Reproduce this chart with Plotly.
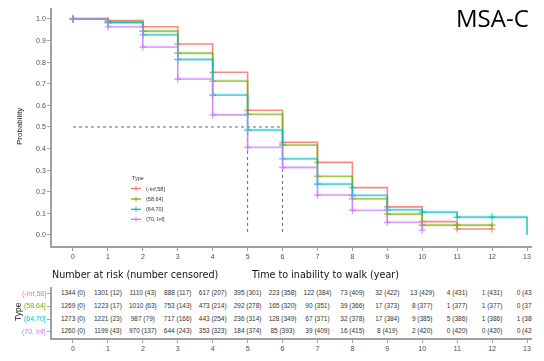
import plotly.graph_objects as go

W, H = 544, 361

# ---------------- data ----------------
groups = ["(-Inf,58]", "(58,64]", "(64,70]", "(70, Inf]"]
colors = ["#F8766D", "#7CAE00", "#00BFC4", "#C77CFF"]

t_red = [0, 1, 2, 3, 4, 5, 6, 7, 8, 9, 10, 11, 12]
s_red = [1.0, 0.992, 0.964, 0.884, 0.753, 0.577, 0.429, 0.336, 0.219, 0.130, 0.062, 0.028, 0.028]

t_green = [0, 1, 2, 3, 4, 5, 6, 7, 8, 9, 10, 11, 12]
s_green = [1.0, 0.987, 0.944, 0.842, 0.713, 0.559, 0.417, 0.272, 0.168, 0.097, 0.046, 0.046, 0.046]

t_cyan = [0, 1, 2, 3, 4, 5, 6, 7, 8, 9, 10, 11, 12, 13]
s_cyan = [1.0, 0.983, 0.927, 0.813, 0.648, 0.486, 0.353, 0.236, 0.184, 0.117, 0.106, 0.083, 0.083, 0.0]

t_purple = [0, 1, 2, 3, 4, 5, 6, 7, 8, 9, 10]
s_purple = [1.0, 0.964, 0.870, 0.722, 0.556, 0.406, 0.313, 0.185, 0.115, 0.059, 0.023]

# censor-mark counts per curve (points that carry a "+")
n_marks = [13, 13, 13, 11]

median_level = 0.5
median_times = [6, 6, 5, 5]

risk_times = list(range(14))
risk_red = ["1344 (0)", "1301 (12)", "1110 (43)", "888 (117)", "617 (207)", "395 (301)", "223 (358)",
            "122 (384)", "73 (409)", "32 (422)", "13 (429)", "4 (431)", "1 (431)", "0 (431)"]
risk_green = ["1269 (0)", "1223 (17)", "1010 (63)", "753 (143)", "473 (214)", "292 (278)", "165 (320)",
              "90 (351)", "39 (366)", "17 (373)", "8 (377)", "1 (377)", "1 (377)", "0 (377)"]
risk_cyan = ["1273 (0)", "1221 (23)", "987 (79)", "717 (166)", "443 (254)", "236 (314)", "128 (349)",
             "67 (371)", "32 (378)", "17 (384)", "9 (385)", "5 (386)", "1 (386)", "1 (386)"]
risk_purple = ["1260 (0)", "1199 (43)", "970 (137)", "644 (243)", "353 (323)", "184 (374)", "85 (393)",
               "39 (409)", "16 (415)", "8 (419)", "2 (420)", "0 (420)", "0 (420)", "0 (420)"]

x_ticks = list(range(14))
y_ticks = [0.0, 0.1, 0.2, 0.3, 0.4, 0.5, 0.6, 0.7, 0.8, 0.9, 1.0]

# ---------------- figure ----------------
def px(x):
    return x / W

def py(y):
    return 1 - y / H

fig = go.Figure()

curves = [(t_red, s_red), (t_green, s_green), (t_cyan, s_cyan), (t_purple, s_purple)]

# median reference lines
mt_max = max(median_times)
fig.add_trace(go.Scatter(x=[0, mt_max], y=[median_level, median_level], mode="lines",
                         line=dict(color="#666666", width=1, dash="dot"), showlegend=False,
                         xaxis="x", yaxis="y"))
for mt in sorted(set(median_times)):
    fig.add_trace(go.Scatter(x=[mt, mt], y=[median_level, 0], mode="lines",
                             line=dict(color="#666666", width=1, dash="dot"), showlegend=False,
                             xaxis="x", yaxis="y"))

for (t, s), c, g, nm in zip(curves, colors, groups, n_marks):
    fig.add_trace(go.Scatter(x=t, y=s, mode="lines", line=dict(color=c, width=1.6, shape="hv"),
                             opacity=0.85, name=g, showlegend=False, xaxis="x", yaxis="y"))
    fig.add_trace(go.Scatter(x=t[:nm], y=s[:nm], mode="markers",
                             marker=dict(symbol="cross-thin", size=5, line=dict(color=c, width=1.2)),
                             opacity=0.9, showlegend=False, xaxis="x", yaxis="y"))

# risk table
risk_rows = [risk_red, risk_green, risk_cyan, risk_purple]
for i, row in enumerate(risk_rows):
    fig.add_trace(go.Scatter(x=risk_times, y=[i] * len(risk_times), mode="text", text=row,
                             textfont=dict(size=6.5, color="#333333", family="Liberation Sans"),
                             textposition="middle center", cliponaxis=True, showlegend=False,
                             xaxis="x2", yaxis="y2"))

xdom = [px(52), px(532)]
xr = [-0.601, 13.143]
axis_common = dict(showline=True, linecolor="#A0A0A0", linewidth=1.5, ticks="outside",
                   ticklen=3, tickcolor="#A0A0A0", tickwidth=1, showgrid=False, zeroline=False,
                   tickfont=dict(size=7, color="#4D4D4D", family="Liberation Sans"))

fig.update_layout(
    width=W, height=H, margin=dict(l=0, r=0, t=0, b=0),
    paper_bgcolor="white", plot_bgcolor="white",
    xaxis=dict(domain=xdom, range=xr, tickvals=x_ticks, anchor="y", **axis_common),
    yaxis=dict(domain=[py(246), py(7.7)], range=[-0.051, 1.052], tickvals=y_ticks,
               ticktext=["%.1f" % v for v in y_ticks], anchor="x", **axis_common),
    xaxis2=dict(domain=xdom, range=xr, tickvals=x_ticks, anchor="y2", **axis_common),
    yaxis2=dict(domain=[py(338), py(287)], range=[3.5, -0.53], tickvals=[0, 1, 2, 3],
                ticktext=["", "", "", ""], anchor="x2", **axis_common),
    showlegend=False,
)

ann = []
# coloured row labels of the risk table
for i, (g, c) in enumerate(zip(groups, colors)):
    ann.append(dict(text=g, x=px(48), y=i, xref="paper", yref="y2", showarrow=False,
                    font=dict(size=7, color=c, family="Liberation Sans"), xanchor="right", yanchor="middle"))

ann.append(dict(text="MSA-C", x=px(492), y=py(18), xref="paper", yref="paper", showarrow=False,
                font=dict(size=24, color="black", family="Open Sans"), xanchor="center", yanchor="middle"))
ann.append(dict(text="Probability", x=px(20), y=py(127), xref="paper", yref="paper", showarrow=False,
                textangle=-90, font=dict(size=8, color="#222222", family="Liberation Sans"),
                xanchor="center", yanchor="middle"))
ann.append(dict(text="Type", x=px(18), y=py(312), xref="paper", yref="paper", showarrow=False,
                textangle=-90, font=dict(size=8.5, color="#222222", family="Liberation Sans"),
                xanchor="center", yanchor="middle"))
ann.append(dict(text="Number at risk (number censored)", x=px(50), y=py(274), xref="paper", yref="paper",
                showarrow=False, font=dict(size=9.6, color="#111111", family="DejaVu Sans"),
                xanchor="left", yanchor="middle"))
ann.append(dict(text="Time to inability to walk (year)", x=px(249), y=py(274), xref="paper", yref="paper",
                showarrow=False, font=dict(size=9.6, color="#111111", family="DejaVu Sans"),
                xanchor="left", yanchor="middle"))

# legend (manual, compact)
ann.append(dict(text="Type", x=px(130), y=py(178), xref="paper", yref="paper", showarrow=False,
                font=dict(size=5.5, color="#333333", family="Liberation Sans"), xanchor="left", yanchor="middle"))
shapes = []
leg_y = [188.5, 199, 209.3, 219.3]
for g, c, ly in zip(groups, colors, leg_y):
    shapes.append(dict(type="line", xref="paper", yref="paper", x0=px(131), x1=px(141), y0=py(ly), y1=py(ly),
                       line=dict(color=c, width=1.3)))
    shapes.append(dict(type="line", xref="paper", yref="paper", x0=px(136), x1=px(136), y0=py(ly - 2.5),
                       y1=py(ly + 2.5), line=dict(color=c, width=1)))
    ann.append(dict(text=g, x=px(144), y=py(ly), xref="paper", yref="paper", showarrow=False,
                    font=dict(size=5.5, color="#333333", family="Liberation Sans"), xanchor="left",
                    yanchor="middle"))

fig.update_layout(annotations=ann, shapes=shapes)
fig.write_html("out.html", config={"displayModeBar": False},
               post_script="document.body.style.margin='0';document.body.style.overflow='hidden';")
